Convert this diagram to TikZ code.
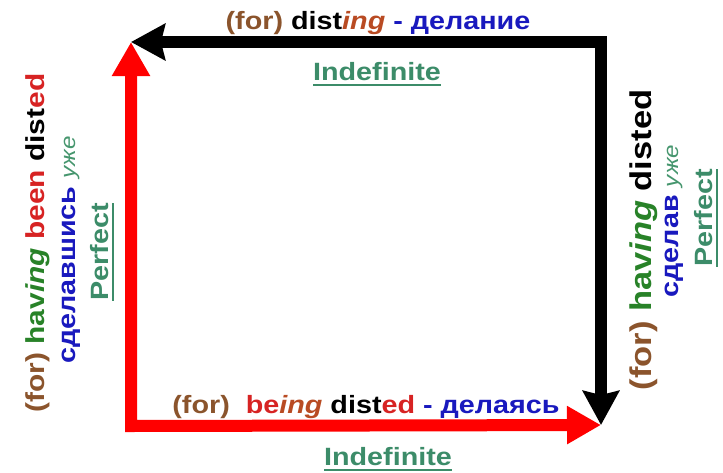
\documentclass[tikz,border=0pt]{standalone}
\usepackage{fontspec}
\setmainfont[FakeStretch=1.15]{Liberation Sans}
\usetikzlibrary{arrows.meta}
\definecolor{brownc}{RGB}{139,84,44}
\definecolor{ingc}{RGB}{185,75,35}
\definecolor{bluec}{RGB}{25,25,190}
\definecolor{greenc}{RGB}{60,140,105}
\definecolor{dgreen}{RGB}{40,130,40}
\definecolor{redt}{RGB}{215,35,35}
\definecolor{ujec}{RGB}{70,150,110}
\newcommand\myul[1]{\setbox0\hbox{#1}\rlap{\rule[-6pt]{\wd0}{2.5pt}}\box0}
\newcommand\uje{{\color{ujec}\mdseries\itshape\fontsize{21}{25}\selectfont уже}}
\begin{document}
\begin{tikzpicture}[x=1pt,y=-1pt,
  txt/.style={inner sep=0pt, anchor=base, font=\fontsize{25}{30}\selectfont\bfseries},
  vtxt/.style={txt, rotate=90},
  blackarrow/.style={line width=12pt, draw=black, line join=miter,
    {Stealth[length=34pt,width=36pt,inset=4pt]}-{Stealth[length=34pt,width=36pt,inset=4pt]}},
  redarrow/.style={line width=12pt, draw=red, line join=miter,
    {Triangle[length=34pt,width=36pt]}-{Triangle[length=34pt,width=36pt]}}]
\useasboundingbox (0,0) rectangle (723,472);
\fill[white] (0,0) rectangle (723,472);
% corners and tips
\coordinate (tl) at (131,42);
\coordinate (kc) at (601,42);
\coordinate (br) at (601,425);
\coordinate (rc) at (131,426);
\draw[blackarrow] (tl) -- (kc) -- (br);
\draw[redarrow] (tl) -- (rc) -- (br);
% top
\node[txt] (toptext) at (378,29) {{\color{brownc}(for)} dist{\color{ingc}\itshape ing} {\color{bluec}- делание}};
\node[txt, text=greenc] (topind) at (377,80) {\myul{Indefinite}};
% bottom
\node[txt] (bottext) at (366,413) {{\color{brownc}(for)}\ \ {\color{redt}be}{\color{ingc}\itshape ing} dist{\color{redt}ed} {\color{bluec}- делаясь}};
\node[txt, text=greenc] (botind) at (388,465) {\myul{Indefinite}};
% left
\node[vtxt, font=\fontsize{26}{30}\selectfont\bfseries] (l1) at (44,243) {{\color{brownc}(for)} {\color{dgreen}hav\itshape ing} {\color{redt}been} dist{\color{redt}ed}};
\node[vtxt] (l2) at (75,250) {{\color{bluec}сделавшись} \uje};
\node[vtxt, text=greenc] (l3) at (108,252) {\myul{Perfect}};
% right
\node[vtxt, font=\fontsize{30}{34}\selectfont\bfseries] (r1) at (651,240) {{\color{brownc}(for)} {\color{dgreen}hav\itshape ing} disted};
\node[vtxt] (r2) at (678,221) {{\color{bluec}сделав} \uje};
\node[vtxt, text=greenc] (r3) at (712,218) {\myul{Perfect}};
\end{tikzpicture}
\end{document}
